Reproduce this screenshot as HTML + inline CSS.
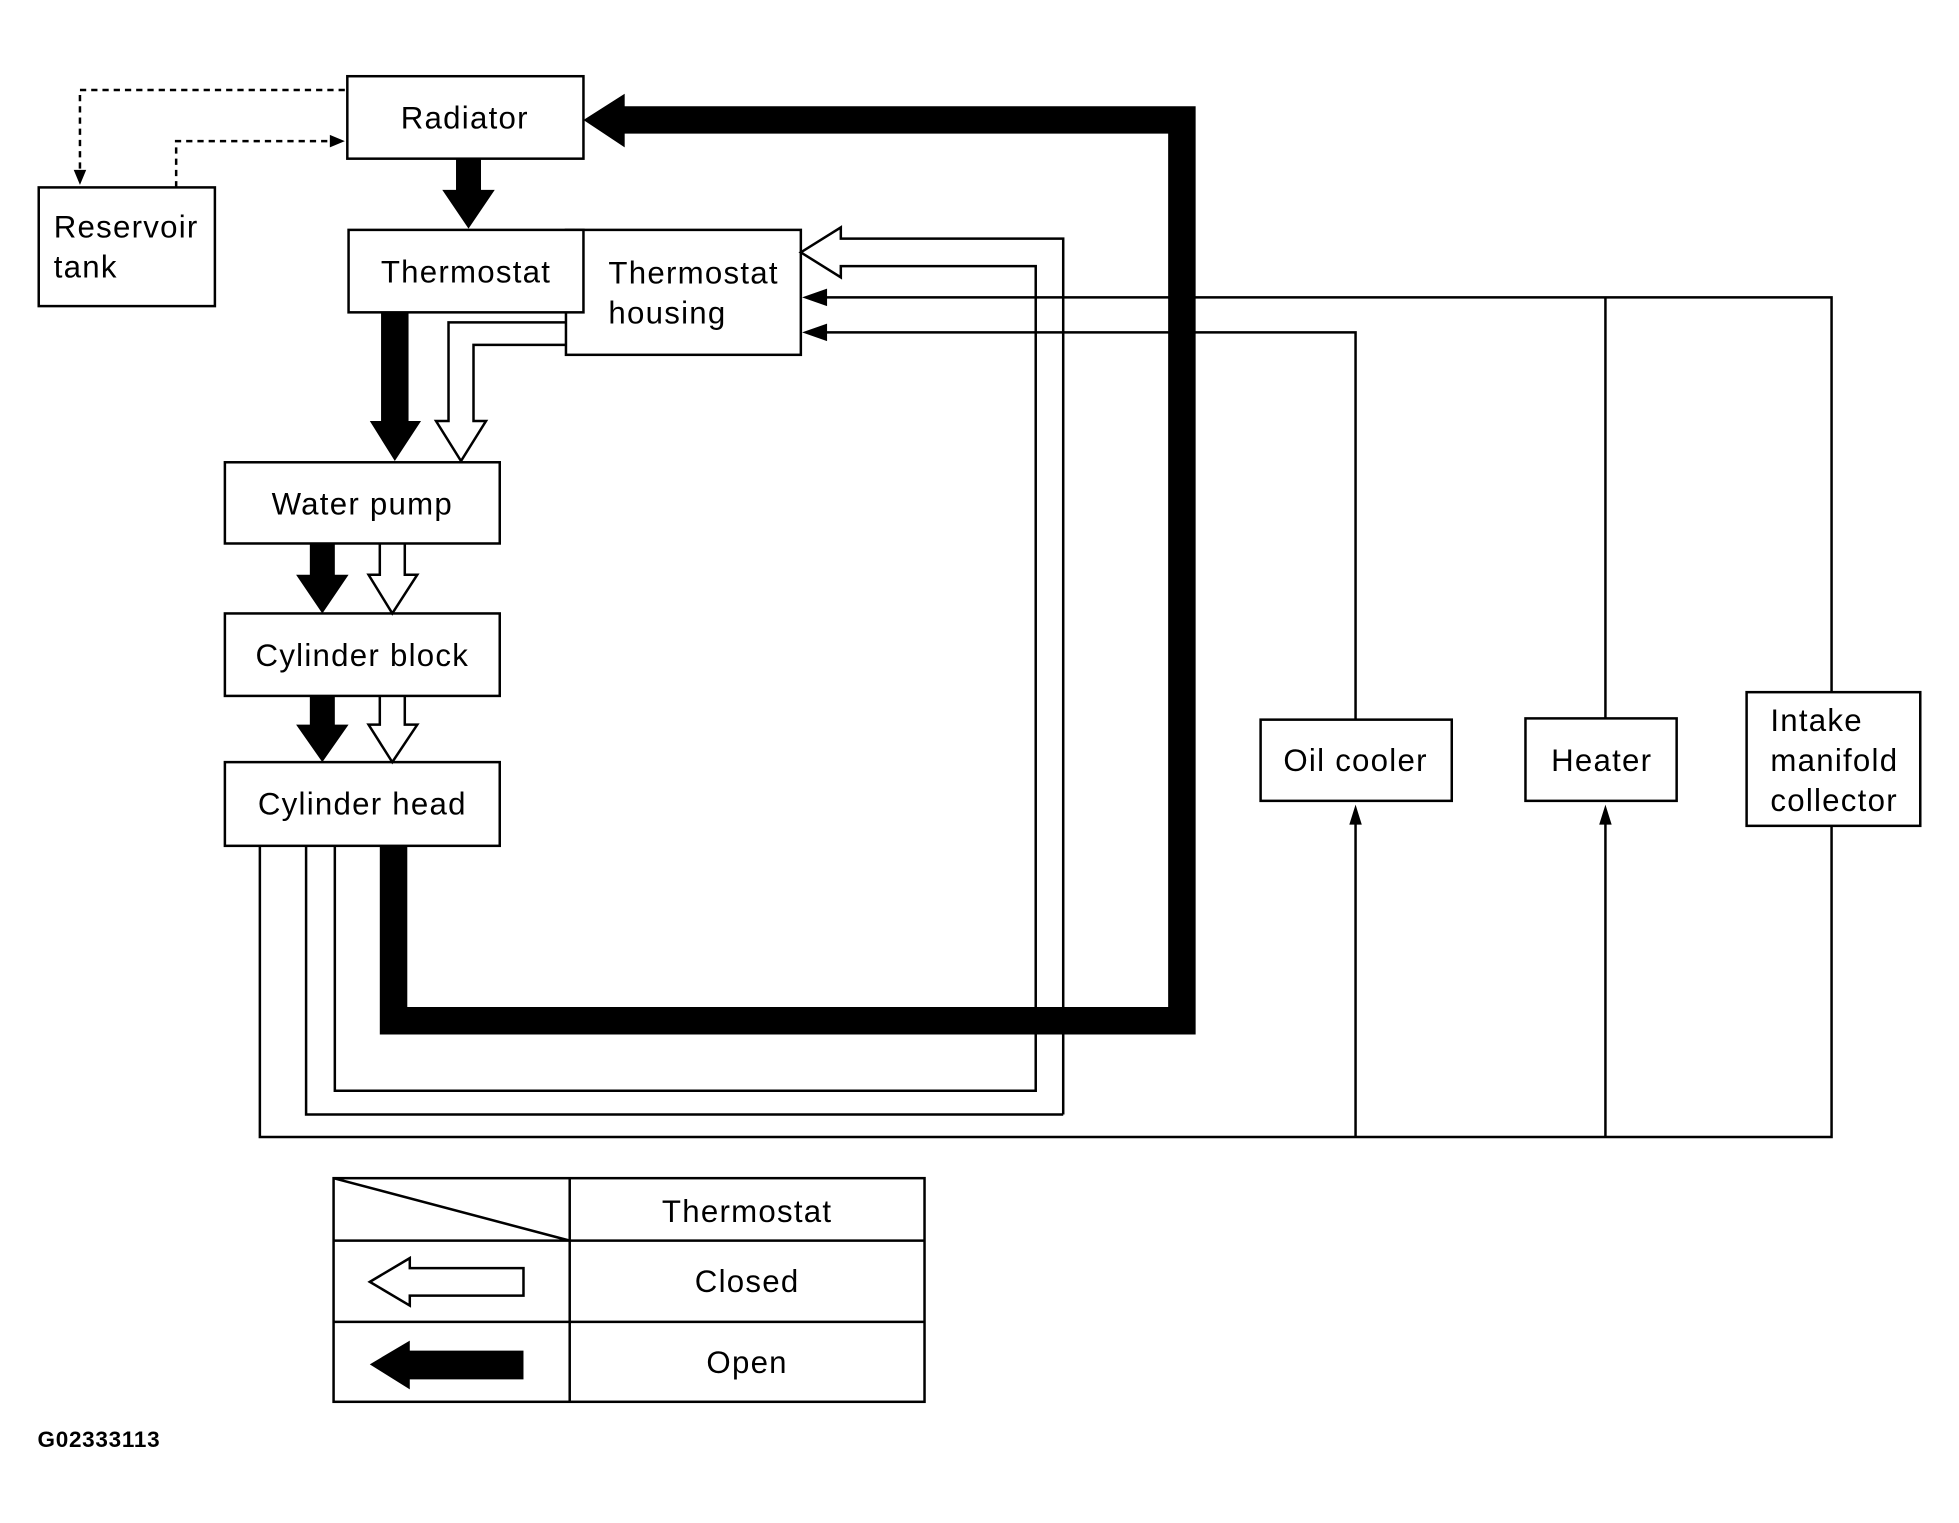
<!DOCTYPE html>
<html><head><meta charset="utf-8"><style>html,body{margin:0;padding:0;background:#fff}svg{display:block}</style></head><body>
<svg width="1959" height="1523" viewBox="0 0 1568 1219" preserveAspectRatio="none" xmlns="http://www.w3.org/2000/svg" font-family="Liberation Sans, sans-serif" font-size="25" letter-spacing="1">
<g fill="none" stroke="#000" stroke-width="2">
<rect x="278" y="61" width="189" height="66"/>
<rect x="31" y="150" width="141" height="95"/>
<rect x="453" y="184" width="188" height="100" fill="#fff"/>
<rect x="279" y="184" width="188" height="66" fill="#fff"/>
<rect x="180" y="370" width="220" height="65"/>
<rect x="180" y="491" width="220" height="66"/>
<rect x="180" y="610" width="220" height="67"/>
<rect x="1009" y="576" width="153" height="65"/>
<rect x="1221" y="575" width="121" height="66"/>
<rect x="1398" y="554" width="139" height="107"/>
<path d="M276 72 H64 V140" stroke-dasharray="5,4"/>
<path d="M141 150 V113 H266" stroke-dasharray="5,4"/>
<path d="M851 892 V191 H673 V182 L641 202 L673 222 V213 H829 V873 H268 V677"/>
<path d="M851 892 H245 V677"/>
<path d="M208 677 V910 H1466 V661"/>
<path d="M1466 554 V238 H652"/>
<path d="M1285 238 V575"/>
<path d="M1085 576 V266 H652"/>
<path d="M1085 910 V654"/>
<path d="M1285 910 V654"/>
<path d="M453 258 H359 V337 H349 L369 369 L389 337 H379 V276 H453"/>
<path d="M304 435 V460 H295 L314 491 L334 460 H324 V435"/>
<path d="M304 557 V580 H295 L314 610 L334 580 H324 V557"/>
<rect x="267" y="943" width="473" height="179"/>
<path d="M456 943 V1122 M267 993 H740 M267 1058 H740 M267 943 L456 993"/>
<path d="M296 1026 L328 1007 V1015 H419 V1037 H328 V1045 Z"/>
</g>
<g fill="#000">
<polygon points="64,148 59,136 69,136"/>
<polygon points="276,113 264,108 264,118"/>
<polygon points="642,238 662,231 662,245"/>
<polygon points="642,266 662,259 662,273"/>
<polygon points="1085,644 1080,660 1090,660"/>
<polygon points="1285,644 1280,660 1290,660"/>
<polygon points="365,127 385,127 385,152 396,152 375,183 354,152 365,152"/>
<polygon points="305,250 327,250 327,337 337,337 316,369 296,337 305,337"/>
<polygon points="248,435 268,435 268,460 279,460 258,491 237,460 248,460"/>
<polygon points="248,557 268,557 268,580 279,580 258,610 237,580 248,580"/>
<polygon points="304,677 326,677 326,806 935,806 935,107 500,107 500,118 467,96 500,75 500,85 957,85 957,828 304,828"/>
<polygon points="296,1092 328,1073 328,1081 419,1081 419,1104 328,1104 328,1112"/>
</g>
<g fill="#000">
<text x="372" y="103" text-anchor="middle">Radiator</text>
<text x="43" y="190">Reservoir</text>
<text x="43" y="222">tank</text>
<text x="373" y="226" text-anchor="middle">Thermostat</text>
<text x="487" y="227">Thermostat</text>
<text x="487" y="259">housing</text>
<text x="290" y="412" text-anchor="middle">Water pump</text>
<text x="290" y="533" text-anchor="middle">Cylinder block</text>
<text x="290" y="652" text-anchor="middle">Cylinder head</text>
<text x="1085" y="617" text-anchor="middle">Oil cooler</text>
<text x="1282" y="617" text-anchor="middle">Heater</text>
<text x="1417" y="585">Intake</text>
<text x="1417" y="617">manifold</text>
<text x="1417" y="649">collector</text>
<text x="598" y="978" text-anchor="middle">Thermostat</text>
<text x="598" y="1034" text-anchor="middle">Closed</text>
<text x="598" y="1099" text-anchor="middle">Open</text>
<text x="30" y="1158" font-size="18" font-weight="bold" letter-spacing="0.6">G02333113</text>
</g>
</svg>
</body></html>
